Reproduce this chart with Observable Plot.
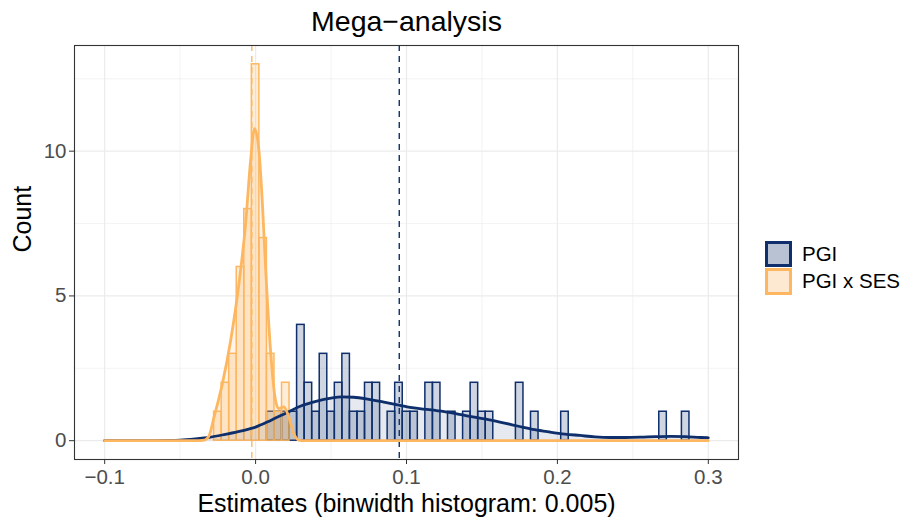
<!DOCTYPE html>
<html><head><meta charset="utf-8">
<script src="https://cdn.jsdelivr.net/npm/d3@7"></script>
<script src="https://cdn.jsdelivr.net/npm/@observablehq/plot@0.6"></script>
<style>
body{margin:0;background:#fff;font-family:"Liberation Sans",Arial,Helvetica,sans-serif;}
#wrap{position:relative;width:911px;height:522px;overflow:hidden;}
#wrap svg{display:block;}
.legend{position:absolute;left:765px;top:240px;}
.item{display:flex;align-items:center;height:27.5px;}
.key{box-sizing:border-box;width:27px;height:26.5px;border:3.3px solid;}
.lab{margin-left:10px;font-size:20.5px;color:#000;}
</style></head>
<body><div id="wrap"></div>
<script>
// ---- data ----
const pgiBinCenters = [0.01,0.015,0.02,0.025,0.03,0.035,0.04,0.045,0.05,0.055,0.06,0.065,0.07,0.075,0.08,0.09,0.095,0.1,0.105,0.115,0.12,0.13,0.14,0.145,0.15,0.155,0.175,0.185,0.205,0.27,0.285];
const pgiCounts     = [1,1,1,1,4,2,1,3,1,2,3,1,1,2,2,1,2,1,1,2,2,1,1,2,1,1,2,1,1,1,1];
const sesBinCenters = [-0.025,-0.02,-0.015,-0.01,-0.005,0,0.005,0.01,0.015,0.02];
const sesCounts     = [1,2,3,6,8,13,7,3,1,2];
const binwidth = 0.005;

const pgiCurveX = [-0.1,-0.08,-0.06,-0.05,-0.04,-0.03,-0.02,-0.01,0,0.01,0.02,0.03,0.04,0.05,0.057,0.065,0.075,0.085,0.095,0.105,0.115,0.125,0.135,0.145,0.155,0.165,0.175,0.185,0.195,0.205,0.215,0.225,0.235,0.245,0.255,0.265,0.275,0.285,0.295,0.3];
const pgiCurveY = [0,0,0.01,0.02,0.06,0.12,0.22,0.33,0.47,0.7,0.95,1.2,1.36,1.47,1.51,1.5,1.43,1.33,1.23,1.13,1.07,1.0,0.91,0.81,0.72,0.61,0.49,0.38,0.3,0.23,0.18,0.13,0.11,0.11,0.12,0.14,0.15,0.14,0.11,0.1];
const sesCurveX = [-0.1,-0.04,-0.034,-0.031,-0.0275,-0.022,-0.0165,-0.011,-0.0066,-0.0033,-0.0007,0.0022,0.0044,0.0066,0.0099,0.0132,0.0154,0.0187,0.022,0.0253,0.0286,0.032,0.3];
const sesCurveY = [0,0,0.02,0.15,0.82,1.97,3.47,5.43,7.5,9.68,10.78,10.03,8.3,6.0,3.12,1.4,1.11,1.17,0.82,0.25,0.02,0,0];

const pgiMean = 0.0952;
const sesMean = -0.0025;

const xTicks = [-0.1,0,0.1,0.2,0.3];
const xMinor = [-0.05,0.05,0.15,0.25];
const yTicks = [0,5,10];
const yMinor = [2.5,7.5,12.5];

const seriesNames = ["PGI","PGI x SES"];
const navy = "#0e2f6b";
const orange = "#fdb761";

// ---- build tables ----
const pgiBars = pgiBinCenters.map((c,i)=>({c, n: pgiCounts[i]}));
const sesBars = sesBinCenters.map((c,i)=>({c, n: sesCounts[i]}));
const pgiCurve = pgiCurveX.map((x,i)=>({x, y: pgiCurveY[i]}));
const sesCurve = sesCurveX.map((x,i)=>({x, y: sesCurveY[i]}));
const fmt = d => (d < 0 ? "\u2212" : "") + Math.abs(d).toFixed(1);

const chart = Plot.plot({
  width: 911, height: 522,
  marginLeft: 74, marginRight: 173, marginTop: 45, marginBottom: 63,
  style: {fontFamily: '"Liberation Sans", Arial, Helvetica, sans-serif', background: "#fff"},
  x: {domain: [-0.12, 0.32], label: null},
  y: {domain: [-0.65, 13.65], label: null},
  marks: [
    Plot.ruleX(xMinor, {stroke: "#ebebeb", strokeWidth: 0.6}),
    Plot.ruleY(yMinor, {stroke: "#ebebeb", strokeWidth: 0.6}),
    Plot.ruleX(xTicks, {stroke: "#ebebeb", strokeWidth: 1.2}),
    Plot.ruleY(yTicks, {stroke: "#ebebeb", strokeWidth: 1.2}),
    Plot.rectY(pgiBars, {x1: d => d.c - binwidth/2, x2: d => d.c + binwidth/2, y: "n", inset: 0,
      fill: navy, fillOpacity: 0.2, stroke: navy, strokeWidth: 1.5}),
    Plot.rectY(sesBars, {x1: d => d.c - binwidth/2, x2: d => d.c + binwidth/2, y: "n", inset: 0,
      fill: orange, fillOpacity: 0.25, stroke: orange, strokeWidth: 1.5}),
    Plot.areaY(pgiCurve, {x: "x", y: "y", fill: navy, fillOpacity: 0.1, curve: "monotone-x"}),
    Plot.areaY(sesCurve, {x: "x", y: "y", fill: orange, fillOpacity: 0.15, curve: "monotone-x"}),
    Plot.ruleX([pgiMean], {stroke: navy, strokeWidth: 1.4, strokeDasharray: "6,5"}),
    Plot.ruleX([sesMean], {stroke: orange, strokeWidth: 1.4, strokeDasharray: "6,5"}),
    Plot.line(pgiCurve, {x: "x", y: "y", stroke: navy, strokeWidth: 2.8, curve: "monotone-x"}),
    Plot.line(sesCurve, {x: "x", y: "y", stroke: orange, strokeWidth: 2.8, curve: "monotone-x"}),
    Plot.frame({stroke: "#333333", strokeWidth: 1.1}),
    Plot.axisX({ticks: xTicks, tickFormat: fmt, tickSize: 5, tickPadding: 5, fontSize: 20.5, stroke: "#333333", fill: "#4d4d4d", label: null}),
    Plot.axisY({ticks: yTicks, tickFormat: d => String(d), tickSize: 5, tickPadding: 3, fontSize: 20.5, stroke: "#333333", fill: "#4d4d4d", label: null}),
    Plot.text(["Mega\u2212analysis"], {text: d => d, frameAnchor: "top", lineAnchor: "middle", dy: -24, fontSize: 28.5, fill: "#000"}),
    Plot.text(["Estimates (binwidth histogram: 0.005)"], {text: d => d, frameAnchor: "bottom", lineAnchor: "middle", dy: 44, fontSize: 25, fill: "#000"}),
    Plot.text(["Count"], {text: d => d, frameAnchor: "left", lineAnchor: "middle", dx: -52, rotate: -90, fontSize: 25, fill: "#000"})
  ]
});

const wrap = document.getElementById("wrap");
wrap.appendChild(chart);

const legend = document.createElement("div");
legend.className = "legend";
const keyFills = ["#b8c2d3", "#fde9d2"];
const keyStrokes = [navy, orange];
seriesNames.forEach((name, i) => {
  const item = document.createElement("div");
  item.className = "item";
  const key = document.createElement("span");
  key.className = "key";
  key.style.borderColor = keyStrokes[i];
  key.style.background = keyFills[i];
  const lab = document.createElement("span");
  lab.className = "lab";
  lab.textContent = name;
  item.appendChild(key); item.appendChild(lab);
  legend.appendChild(item);
});
wrap.appendChild(legend);
</script>
</body></html>
